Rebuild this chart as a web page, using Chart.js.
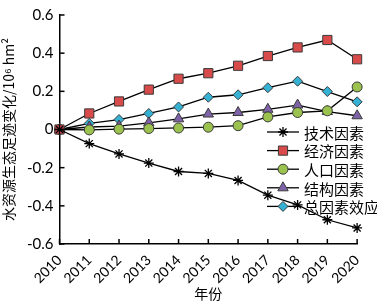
<!DOCTYPE html>
<html>
<head>
<meta charset="utf-8">
<script src="https://cdn.jsdelivr.net/npm/chart.js@4.4.0/dist/chart.umd.min.js"></script>
<style>
html,body{margin:0;padding:0;background:#fff;}
#wrap{width:377px;height:304px;position:relative;}
</style>
</head>
<body>
<div id="wrap"><canvas id="c" width="377" height="304"></canvas></div>
<script>
const years = ['2010','2011','2012','2013','2014','2015','2016','2017','2018','2019','2020'];
const seriesNames = ['技术因素','经济因素','人口因素','结构因素','总因素效应'];
const tech = [0,-0.074,-0.128,-0.176,-0.220,-0.230,-0.267,-0.344,-0.395,-0.473,-0.516];
const econ = [0,0.084,0.147,0.209,0.266,0.295,0.334,0.385,0.430,0.469,0.368];
const popu = [0,-0.002,0.002,0.005,0.008,0.012,0.020,0.066,0.089,0.098,0.223];
const struc = [0,0.013,0.018,0.035,0.056,0.081,0.089,0.106,0.128,0.094,0.072];
const total = [0,0.032,0.052,0.084,0.118,0.169,0.182,0.219,0.253,0.199,0.145];
const yTicks = [-0.6,-0.4,-0.2,0,0.2,0.4,0.6];

const NUMFONT = 'Lato, "Open Sans", sans-serif';
const CJK = '"Noto Sans CJK SC", sans-serif';

const styles = [
  {style:'star', fill:'#000', border:'#000', r:5, bw:1.3},
  {style:'rect', fill:'#D94B4A', border:'#3a3a3a', r:6.5, bw:1},
  {style:'circle', fill:'#9BC24F', border:'#3a3a3a', r:5, bw:1},
  {style:'triangle', fill:'#7E62A8', border:'#3a3a3a', r:6, bw:1},
  {style:'rectRot', fill:'#35B2D3', border:'#3a3a3a', r:5, bw:1}
];
const allData = [tech, econ, popu, struc, total];

const datasets = allData.map((d,i)=>({
  label: seriesNames[i],
  data: d,
  borderColor:'#000',
  borderWidth:1.3,
  pointStyle: styles[i].style,
  pointRadius: styles[i].r,
  pointBackgroundColor: styles[i].fill,
  pointBorderColor: styles[i].border,
  pointBorderWidth: styles[i].bw,
  tension:0,
  fill:false
}));

const innerTicks = {
  id:'innerTicks',
  afterDraw(chart){
    const ctx = chart.ctx;
    const xs = chart.scales.x, ys = chart.scales.y;
    ctx.save();
    ctx.strokeStyle='#000';
    ctx.lineWidth=1.5;
    xs.ticks.forEach((t,i)=>{
      const x = xs.getPixelForTick(i);
      ctx.beginPath(); ctx.moveTo(x, xs.top); ctx.lineTo(x, xs.top-5); ctx.stroke();
    });
    ys.ticks.forEach((t,i)=>{
      const y = ys.getPixelForTick(i);
      ctx.beginPath(); ctx.moveTo(ys.right, y); ctx.lineTo(ys.right+5, y); ctx.stroke();
    });
    ctx.restore();
  }
};

const legendPlugin = {
  id:'customLegend',
  afterDatasetsDraw(chart){
    const ctx = chart.ctx;
    const ca = chart.chartArea;
    const x0 = ca.left + 207.5;
    const y0 = ca.top + 117;
    const rowH = 18.6;
    chart.data.datasets.forEach((ds,i)=>{
      const y = y0 + i*rowH;
      ctx.save();
      ctx.strokeStyle='#000'; ctx.lineWidth=1.3;
      ctx.beginPath(); ctx.moveTo(x0,y); ctx.lineTo(x0+32,y); ctx.stroke();
      ctx.fillStyle = ds.pointBackgroundColor;
      ctx.strokeStyle = ds.pointBorderColor;
      ctx.lineWidth = ds.pointBorderWidth;
      Chart.helpers.drawPoint(ctx, {
        pointStyle: ds.pointStyle, radius: ds.pointRadius, borderWidth: ds.pointBorderWidth, rotation:0
      }, x0+16, y);
      ctx.restore();
      ctx.save();
      ctx.fillStyle='#000';
      ctx.font = '15px ' + CJK;
      ctx.textBaseline='middle';
      ctx.textAlign='left';
      ctx.fillText(ds.label, x0+37, y+1);
      ctx.restore();
    });
  }
};

new Chart(document.getElementById('c'), {
  type:'line',
  data:{labels:years, datasets},
  options:{
    responsive:false,
    animation:false,
    devicePixelRatio:1,
    layout:{padding:{top:7,right:17,left:0,bottom:0}},
    plugins:{legend:{display:false},tooltip:{enabled:false}},
    scales:{
      x:{
        type:'category',
        offset:false,
        grid:{display:true,drawOnChartArea:false,drawTicks:false},
        border:{display:true,color:'#000',width:1.5},
        ticks:{color:'#000',font:{family:NUMFONT,size:14},minRotation:45,maxRotation:45,padding:8,autoSkip:false},
        title:{display:true,text:'年份',color:'#000',font:{family:CJK,size:14},padding:{top:0,bottom:2}},
        afterFit(s){ s.height = 60; }
      },
      y:{
        min:-0.6,max:0.6,
        afterBuildTicks(s){ s.ticks = yTicks.map(v=>({value:v})); },
        grid:{display:true,drawOnChartArea:false,drawTicks:false},
        border:{display:true,color:'#000',width:1.5},
        ticks:{color:'#000',font:{family:NUMFONT,size:15},padding:6,
          callback:(v)=>{const r=Math.round(v*10)/10; return r===0?'0':String(r);}},
        title:{display:true,text:'水资源生态足迹变化/10⁶ hm²',color:'#000',font:{family:CJK,size:14},padding:{top:0,bottom:4}},
        afterFit(s){ s.width = 59.5; }
      }
    }
  },
  plugins:[innerTicks, legendPlugin]
});
</script>
</body>
</html>
